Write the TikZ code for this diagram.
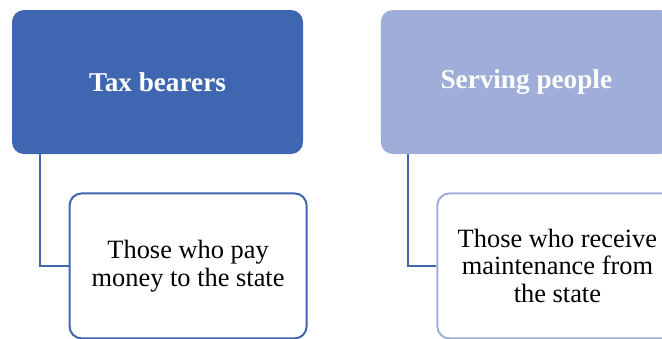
\documentclass[tikz,border=0pt]{standalone}
\usepackage{fontspec}
\setmainfont{Liberation Serif}
\usetikzlibrary{positioning}

\definecolor{darkblue}{HTML}{3F66B0}
\definecolor{paleblue}{HTML}{9FAED9}

\begin{document}
\begin{tikzpicture}[
        x=0.5pt, y=-0.5pt,
        node distance=38.5pt,
        head/.style={rectangle, rounded corners=6pt, align=center, minimum width=145.5pt, minimum height=72pt, text=white, font=\fontsize{13.6}{15}\selectfont\bfseries},
        sub/.style={draw, rectangle, rounded corners=6pt, fill=white, line width=1pt, align=center, minimum width=118.5pt, minimum height=72.5pt, font=\fontsize{13.2}{13.8}\selectfont},
        link/.style={draw=darkblue, line width=1pt}
    ]
    \useasboundingbox (0,0) rectangle (662,338);

    % Nodes
    \node [head, fill=darkblue] (tax) at (157.5,82) {Tax bearers};
    \node [head, fill=paleblue] (serving) [right=of tax] {Serving people};

    \node [sub, draw=darkblue] (pay) [below right=19pt and 28.5pt of tax.south west] {Those who pay\\money to the state};
    \node [sub, draw=paleblue, minimum width=120pt] (receive) [below right=19pt and 28pt of serving.south west] {Those who receive\\maintenance from\\the state};

    % Lines
    \draw [link] ([xshift=14pt]tax.south west) |- (pay.west);
    \draw [link] ([xshift=14pt]serving.south west) |- (receive.west);

\end{tikzpicture}
\end{document}
